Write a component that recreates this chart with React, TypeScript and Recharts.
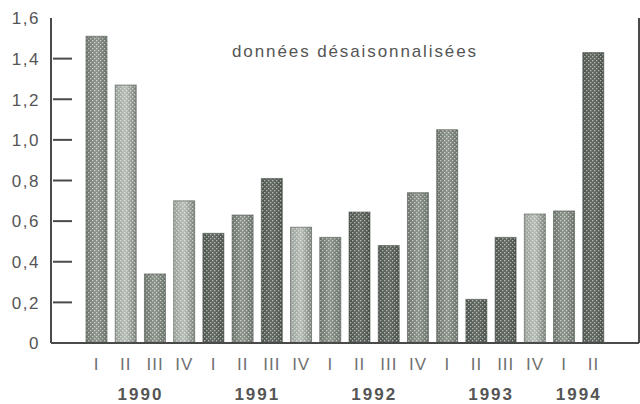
import React from 'react';
import { BarChart, Bar, XAxis, YAxis } from 'recharts';

const quarters = ['I', 'II', 'III', 'IV', 'I', 'II', 'III', 'IV', 'I', 'II', 'III', 'IV', 'I', 'II', 'III', 'IV', 'I', 'II'];
const yearLabels = ['', '1990', '', '', '', '1991', '', '', '', '1992', '', '', '', '1993', '', '', '1994', ''];
const values = [1.51, 1.27, 0.34, 0.7, 0.54, 0.63, 0.81, 0.57, 0.52, 0.645, 0.48, 0.74, 1.05, 0.215, 0.52, 0.635, 0.65, 1.43];
const yTicks = [0, 0.2, 0.4, 0.6, 0.8, 1.0, 1.2, 1.4, 1.6];
const tones = ['mid', 'light', 'mid', 'light', 'dark', 'mid', 'dark', 'light', 'mid', 'dark', 'dark', 'mid', 'mid', 'dark', 'dark', 'light', 'mid', 'dark'];
const annotation = 'données désaisonnalisées';

const data = quarters.map((q, i) => ({ id: i, q, year: yearLabels[i], value: values[i], tone: tones[i] }));

const FONT = '"Liberation Sans", Arial, Helvetica, sans-serif';
const AXIS = '#4a4a4a';

const fmt = (v: number) => v.toFixed(1).replace('.', ',');

const LeftTick = (props: any) => {
  const { x, y, payload } = props;
  const v = payload.value as number;
  const label = v === 0 ? '0' : fmt(v);
  return (
    <g>
      {v > 0 && v < 1.6 && (
        <line x1={x + 2} x2={x + 21} y1={y} y2={y} stroke={AXIS} strokeWidth={2} />
      )}
      <text x={x - 11} y={y} dy="0.37em" textAnchor="end" fontFamily={FONT} fontSize={17} letterSpacing={1.5} fill="#555">
        {label}
      </text>
    </g>
  );
};

const RightTick = (props: any) => {
  const { x, y, payload } = props;
  const v = payload.value as number;
  if (v <= 0 || v >= 1.6) return <g />;
  return <line x1={x - 18} x2={x} y1={y} y2={y} stroke={AXIS} strokeWidth={2} />;
};

const BottomTick = (props: any) => {
  const { x, y, payload, index } = props;
  const half = payload && typeof payload.offset === 'number' && payload.offset > 0 ? payload.offset : 14.6;
  const yr = yearLabels[index];
  return (
    <g>
      <text x={x} y={y + 27} textAnchor="middle" fontFamily={FONT} fontSize={17} letterSpacing={1} fill="#707070">
        {payload.value}
      </text>
      {yr && (
        <text x={x + half} y={y + 57} textAnchor="middle" fontFamily={FONT} fontSize={17} fontWeight="bold" letterSpacing={2} fill="#555">
          {yr}
        </text>
      )}
    </g>
  );
};

const BarShape = (props: any) => {
  const { x, y, width, height, payload } = props;
  if (!height || height <= 0) return <g />;
  const tone = payload.tone;
  return (
    <g>
      <rect x={x} y={y} width={width} height={height} fill={`url(#grad-${tone})`} />
      <rect x={x} y={y} width={width} height={height} fill="url(#dots)" />
      <rect x={x} y={y} width={width} height={height} fill="none" stroke="#4f564f" strokeWidth={1} strokeOpacity={0.6} />
    </g>
  );
};

export default function App() {
  return (
    <div style={{ position: 'absolute', left: 0, top: 0, width: 640, height: 404, background: '#fff' }}>
      <BarChart width={640} height={404} data={data} margin={{ top: 18, right: 0, bottom: 0, left: 0 }}>
        <defs>
          <linearGradient id="grad-dark" x1="0" y1="0" x2="1" y2="0">
            <stop offset="0" stopColor="#4d544d" />
            <stop offset="0.5" stopColor="#646b64" />
            <stop offset="1" stopColor="#4a514a" />
          </linearGradient>
          <linearGradient id="grad-mid" x1="0" y1="0" x2="1" y2="0">
            <stop offset="0" stopColor="#6b736b" />
            <stop offset="0.5" stopColor="#8e968e" />
            <stop offset="1" stopColor="#6a726a" />
          </linearGradient>
          <linearGradient id="grad-light" x1="0" y1="0" x2="1" y2="0">
            <stop offset="0" stopColor="#9aa19a" />
            <stop offset="0.5" stopColor="#b8beb8" />
            <stop offset="1" stopColor="#7d857d" />
          </linearGradient>
          <pattern id="dots" width="4" height="4" patternUnits="userSpaceOnUse">
            <rect x="0" y="0" width="1.3" height="1.3" fill="#ffffff" fillOpacity="0.55" />
            <rect x="2" y="2" width="1.3" height="1.3" fill="#ffffff" fillOpacity="0.55" />
          </pattern>
        </defs>
        <XAxis
          dataKey="q"
          xAxisId="bottom"
          height={61}
          interval={0}
          tickLine={false}
          tickSize={0}
          tickMargin={0}
          axisLine={{ stroke: AXIS, strokeWidth: 2 }}
          padding={{ left: 31, right: 31 }}
          tick={<BottomTick />}
        />
        <XAxis
          dataKey="id"
          xAxisId="top"
          orientation="top"
          height={0}
          tick={false}
          tickLine={false}
          axisLine={{ stroke: AXIS, strokeWidth: 2 }}
        />
        <YAxis
          yAxisId="left"
          width={51}
          domain={[0, 1.6]}
          ticks={yTicks}
          interval={0}
          tickLine={false}
          tickSize={0}
          tickMargin={0}
          axisLine={{ stroke: AXIS, strokeWidth: 2 }}
          tick={<LeftTick />}
        />
        <YAxis
          yAxisId="right"
          orientation="right"
          width={1}
          domain={[0, 1.6]}
          ticks={yTicks}
          interval={0}
          tickLine={false}
          tickSize={0}
          tickMargin={0}
          axisLine={{ stroke: AXIS, strokeWidth: 2 }}
          tick={<RightTick />}
        />
        <Bar dataKey="value" xAxisId="bottom" yAxisId="left" barSize={21} isAnimationActive={false} shape={<BarShape />} />
      </BarChart>
      <div
        style={{
          position: 'absolute',
          left: 232,
          top: 43,
          fontFamily: FONT,
          fontSize: 17,
          lineHeight: '17px',
          letterSpacing: 1.9,
          color: '#555',
          whiteSpace: 'nowrap',
        }}
      >
        {annotation}
      </div>
    </div>
  );
}
